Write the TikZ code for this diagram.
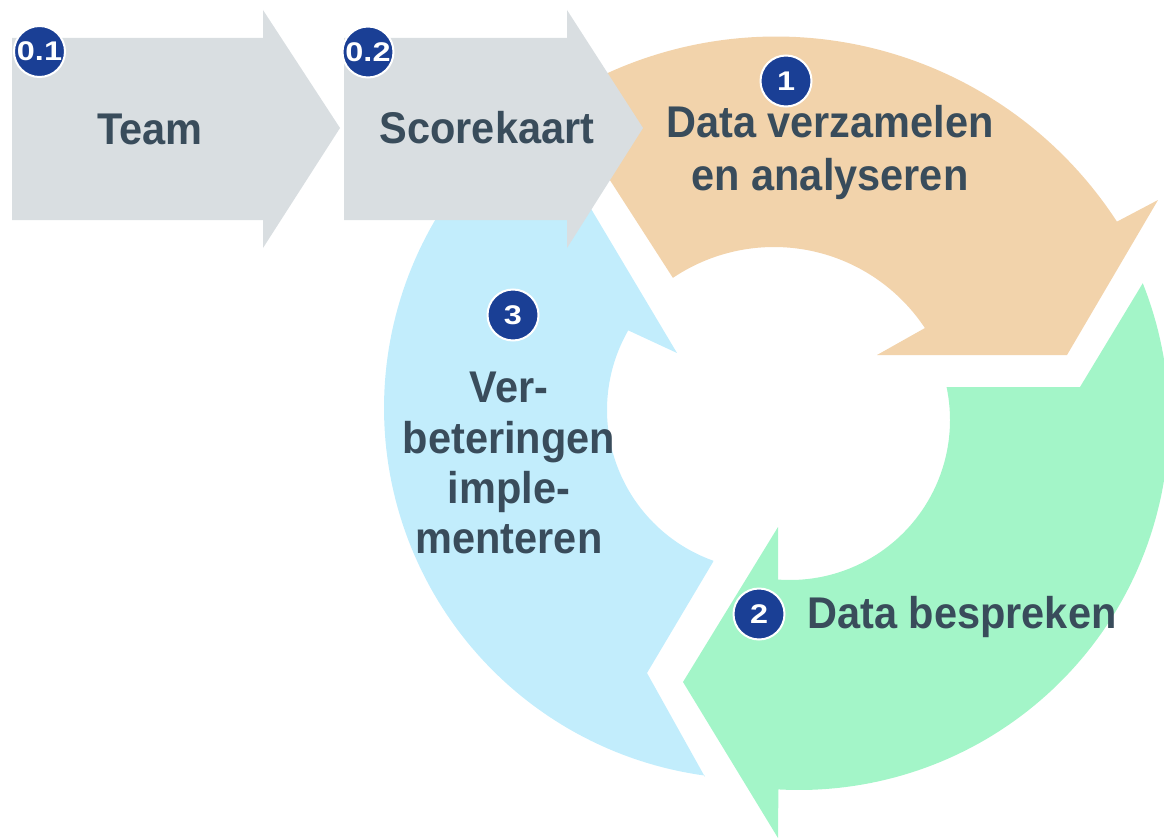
\documentclass[tikz,border=0pt]{standalone}
\usepackage{fontspec}
\setmainfont{Liberation Sans}
\usepackage{graphicx}
\definecolor{graybox}{HTML}{D9DEE1}
\definecolor{orangearc}{HTML}{F2D3AB}
\definecolor{greenarc}{HTML}{A3F5C8}
\definecolor{bluearc}{HTML}{C2EDFC}
\definecolor{badgeblue}{HTML}{1A3F95}
\definecolor{labeltext}{HTML}{394C5B}
\newcommand\tallt[1]{\scalebox{1}[1.07]{#1}}
\newcommand\widet[1]{\scalebox{1.2}[1]{#1}}
\begin{document}
\begin{tikzpicture}[x=1pt,y=-1pt,
  lbl/.style={font=\fontsize{41.5}{50}\selectfont\bfseries, text=labeltext, inner sep=0pt, anchor=base},
  badge/.style={circle, fill=badgeblue, draw=white, line width=2pt, minimum size=51pt, inner sep=0pt, text=white, font=\fontsize{27}{27}\selectfont\bfseries},
  arcplot/.style={domain=0:1, samples=90, variable=\s}
]
\useasboundingbox (0,0) rectangle (1164,840);
\clip (0,0) rectangle (1164,840);

% blue arrow (3)
\fill[bluearc] (705,777) -- (647,673) -- (713,562)
  -- plot[arcplot] ({767+160*cos(109.56+100.34*\s)},{410+160*sin(109.56+100.34*\s)})
  -- (677,353) -- (584,197) -- (420,195)
  -- plot[arcplot] ({755+371*cos(214.1-116.4*\s)},{408+371*sin(214.1-116.4*\s)})
  -- cycle;

% orange arrow (1)
\fill[orangearc] plot[arcplot] ({776+406.5*cos(-122.4+89.45*\s)},{443+406.5*sin(-122.4+89.45*\s)})
  -- (1158,200) -- (1067,355) -- (877,355) -- (925,328)
  -- plot[arcplot] ({774+181*cos(-33.5-90.5*\s)},{428+181*sin(-33.5-90.5*\s)})
  -- cycle;

% green arrow (2)
\fill[greenarc] plot[arcplot] ({799+370*cos(-21.7+114.95*\s)},{420+370*sin(-21.7+114.95*\s)})
  -- (778,838) -- (683,682) -- (778,527) -- (778,580)
  -- plot[arcplot] ({790+160*cos(94.3-106.17*\s)},{420+160*sin(94.3-106.17*\s)})
  -- (1080,387) -- cycle;

% gray arrows
\fill[graybox] (12,38) -- (263,38) -- (263,10) -- (340,128) -- (263,248) -- (263,220) -- (12,220) -- cycle;
\fill[graybox] (344,38) -- (567,38) -- (567,10) -- (643,128) -- (567,248) -- (567,220) -- (344,220) -- cycle;

% labels
\node[lbl] (team) at (150,145) {\tallt{Team}};
\node[lbl] (score) at (487,143) {\tallt{Scorekaart}};
\node[lbl] (s1a) at (830,138) {\tallt{Data verzamelen}};
\node[lbl] (s1b) at (830,190) {\tallt{en analyseren}};
\node[lbl] (s2) at (962,628) {\tallt{Data bespreken}};
\node[lbl] (s3a) at (509,402) {\tallt{Ver-}};
\node[lbl] (s3b) at (509,453) {\tallt{beteringen}};
\node[lbl] (s3c) at (509,503) {\tallt{imple-}};
\node[lbl] (s3d) at (509,553) {\tallt{menteren}};

% badges
\node[badge] (b01) at (39.5,51.5) {\widet{0.1}};
\node[badge] (b02) at (368,52) {\widet{0.2}};
\node[badge] (b1) at (786,81) {\widet{1}};
\node[badge] (b2) at (759,614) {\widet{2}};
\node[badge] (b3) at (513,315) {\widet{3}};
\end{tikzpicture}
\end{document}
